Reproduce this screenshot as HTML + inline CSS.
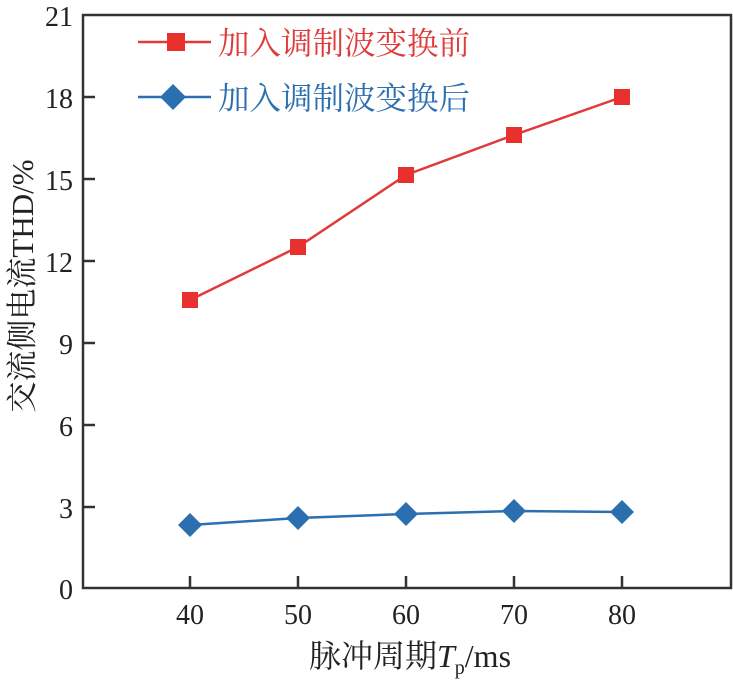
<!DOCTYPE html><html><head><meta charset="utf-8"><style>body{margin:0;background:#fff}</style></head><body>
<svg width="733" height="685" xmlns="http://www.w3.org/2000/svg" font-family="Liberation Serif, Noto Serif CJK SC, serif">
<rect x="83" y="15" width="648" height="573" fill="none" stroke="#333" stroke-width="2.5"/>
<g stroke="#333" stroke-width="2.5">
<line x1="83" y1="97" x2="95" y2="97"/><line x1="83" y1="179" x2="95" y2="179"/><line x1="83" y1="261" x2="95" y2="261"/><line x1="83" y1="343" x2="95" y2="343"/><line x1="83" y1="425" x2="95" y2="425"/><line x1="83" y1="507" x2="95" y2="507"/>
<line x1="190" y1="588" x2="190" y2="576"/><line x1="298" y1="588" x2="298" y2="576"/><line x1="406" y1="588" x2="406" y2="576"/><line x1="514" y1="588" x2="514" y2="576"/><line x1="622" y1="588" x2="622" y2="576"/>
</g>
<g font-size="28" fill="#222" text-anchor="end">
<text x="73" y="26">21</text><text x="73" y="108">18</text><text x="73" y="190">15</text><text x="73" y="272">12</text><text x="73" y="354">9</text><text x="73" y="436">6</text><text x="73" y="518">3</text><text x="73" y="599">0</text>
</g>
<g font-size="28" fill="#222" text-anchor="middle">
<text x="190" y="624">40</text><text x="298" y="624">50</text><text x="406" y="624">60</text><text x="514" y="624">70</text><text x="622" y="624">80</text>
<text x="410" y="667" font-size="32">脉冲周期<tspan font-style="italic">T</tspan><tspan font-size="20" dy="7">p</tspan><tspan dy="-7">/ms</tspan></text>
</g>
<text transform="translate(33,286) rotate(-90)" font-size="31" fill="#222" text-anchor="middle">交流侧电流THD/%</text>
<polyline points="190,300 298,247 406,175 514,135 622,97" fill="none" stroke="#e03a3a" stroke-width="2.5"/>
<g fill="#e8312f"><rect x="182" y="292" width="16" height="16"/><rect x="290" y="239" width="16" height="16"/><rect x="398" y="167" width="16" height="16"/><rect x="506" y="127" width="16" height="16"/><rect x="614" y="89" width="16" height="16"/></g>
<polyline points="190,525 298,518 406,514 514,511 622,512" fill="none" stroke="#2b6fb0" stroke-width="2.5"/>
<g fill="#2b6fb0">
<polygon points="190,513 202,525 190,537 178,525"/><polygon points="298,506 310,518 298,530 286,518"/><polygon points="406,502 418,514 406,526 394,514"/><polygon points="514,499 526,511 514,523 502,511"/><polygon points="622,500 634,512 622,524 610,512"/>
</g>
<line x1="138" y1="42" x2="211" y2="42" stroke="#e03a3a" stroke-width="2.5"/><rect x="167" y="33" width="18" height="18" fill="#e8312f"/>
<text x="218" y="54" font-size="31.5" fill="#e03a3a">加入调制波变换前</text>
<line x1="138" y1="97" x2="211" y2="97" stroke="#2b6fb0" stroke-width="2.5"/><polygon points="173,84 186,97 173,110 160,97" fill="#2b6fb0"/>
<text x="218" y="109" font-size="31.5" fill="#2b6fb0">加入调制波变换后</text>
</svg></body></html>
